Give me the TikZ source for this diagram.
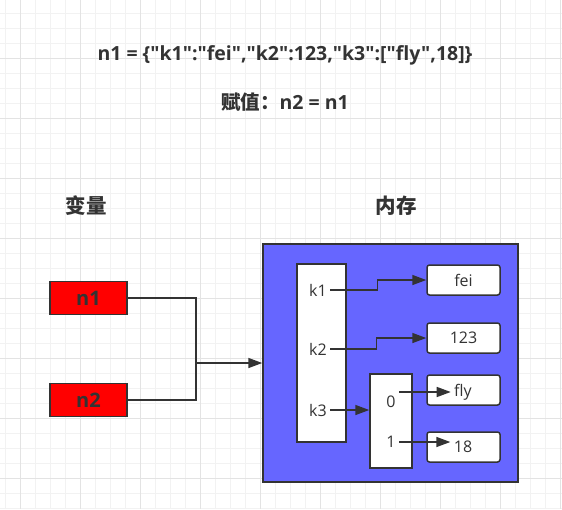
\documentclass[tikz,border=0pt]{standalone}
\usepackage{fontspec}
\setmainfont{Open Sans}[Ligatures=TeXOff]
\newfontfamily\cjk{Noto Sans CJK SC}
\usetikzlibrary{arrows.meta}
\definecolor{ink}{HTML}{333333}
\definecolor{memblue}{HTML}{6666FF}
\definecolor{gridminor}{HTML}{F2F2F2}
\definecolor{gridmajor}{HTML}{E3E3E3}

\begin{document}
\begin{tikzpicture}[x=1pt,y=-1pt]

\tikzset{varbox/.style = {draw=ink, line width=1.5pt, fill=red, minimum width=77pt, minimum height=33pt, font=\bfseries\fontsize{20}{20}\selectfont, text=ink}}
\tikzset{valbox/.style = {draw=ink, line width=1.5pt, fill=white, rounded corners=2.5pt, minimum width=73pt, minimum height=30pt}}
\tikzset{label/.style = {text=ink, font=\fontsize{16}{16}\selectfont}}
\tikzset{heading/.style = {text=ink, font=\bfseries\fontsize{19.5}{19.5}\selectfont}}
\tikzset{edge/.style = {->, draw=ink, line width=1.5pt, > = {Triangle[length=14pt,width=10pt]}}}
\tikzset{wire/.style = {draw=ink, line width=1.5pt}}

\useasboundingbox (0,0) rectangle (562,509);
% grid
\foreach \x in {5,20,...,560} \draw[gridminor, line width=1pt] (\x,0) -- (\x,509);
\foreach \y in {13,28,...,508} \draw[gridminor, line width=1pt] (0,\y) -- (562,\y);
\foreach \x in {20,80,...,560} \draw[gridmajor, line width=1pt] (\x,0) -- (\x,509);
\foreach \y in {58,118,...,478} \draw[gridmajor, line width=1pt] (0,\y) -- (562,\y);

% texts
\node[heading] (code) at (285,55) {n1 = \{"k1":"fei","k2":123,"k3":["fly",18]\}};
\node[heading] (assign) at (285,102) {{\cjk\bfseries 赋值：}n2 = n1};
\node[heading, font=\cjk\bfseries\fontsize{20.5}{20.5}\selectfont] (vars) at (86,206) {变量};
\node[heading, font=\cjk\bfseries\fontsize{20.5}{20.5}\selectfont] (memory) at (396,206) {内存};

% variables
\node[varbox] (n1) at (88.5,298) {n1};
\node[varbox] (n2) at (88.5,400) {n2};

% memory
\node[draw=ink, line width=1.5pt, fill=memblue, minimum width=255pt, minimum height=238pt] (mem) at (390.5,363) {};
\node[draw=ink, line width=1.5pt, fill=white, minimum width=49pt, minimum height=178pt] (keys) at (321.5,353) {};
\node[draw=ink, line width=1.5pt, fill=white, minimum width=42pt, minimum height=94pt] (list) at (391,421) {};
\node[label] (k1) at (318,290) {k1};
\node[label] (k2) at (318,349) {k2};
\node[label] (k3) at (318,410) {k3};
\node[label] (zero) at (391,402) {0};
\node[label] (one) at (391,442) {1};
\node[valbox, label] (fei) at (463.5,280) {fei};
\node[valbox, label] (v123) at (463.5,338) {123};
\node[valbox] (fly) at (463.5,390) {};
\node[valbox] (v18) at (463.5,447) {};
\node[label] (tfly) at (463,392) {fly};
\node[label] (t18) at (463,447) {18};

%edges
\coordinate (join) at (196,363);
\draw[wire] (n1.east) -| (join);
\draw[wire] (n2.east) -| (join);
\draw[edge] (join) -- (mem.west);
\draw[edge] (k1.east) -- ++(47,0) |- (fei.west);
\draw[edge] (k2.east) -- ++(46,0) |- (v123.west);
\draw[edge] (k3.east) -- (k3.east -| list.west);
\draw[edge] (zero.east |- tfly.west) -- (tfly.west);
\draw[edge] (one.east) -- (one.east -| t18.west);

\end{tikzpicture}
\end{document}
